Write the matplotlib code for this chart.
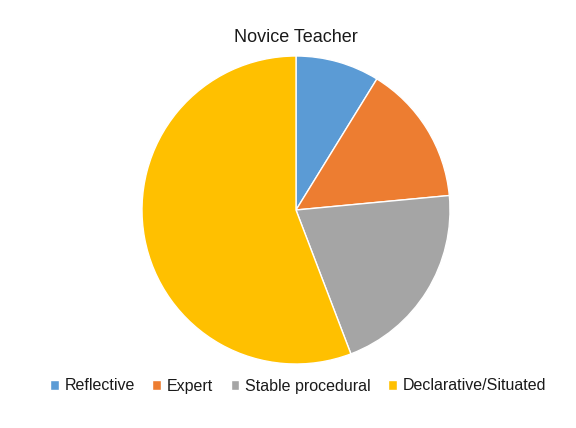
import matplotlib
matplotlib.use("Agg")
import matplotlib.pyplot as plt

plt.rcParams["font.family"] = ["Liberation Sans", "DejaVu Sans"]

labels = ["Reflective", "Expert", "Stable procedural", "Declarative/Situated"]
values = [8.8, 14.7, 20.7, 55.8]
colors = ["#5B9BD5", "#ED7D31", "#A5A5A5", "#FFC000"]

W, H = 576, 428
fig = plt.figure(figsize=(W / 100, H / 100), dpi=100)
cx, cy, r = 296, 210, 154
ax = fig.add_axes([(cx - r) / W, (H - cy - r) / H, 2 * r / W, 2 * r / H])
wedges, _ = ax.pie(values, colors=colors, startangle=90, counterclock=False,
                   radius=1, wedgeprops=dict(edgecolor="white", linewidth=1))
ax.set_xlim(-1, 1)
ax.set_ylim(-1, 1)
ax.set_aspect("equal")
ax.axis("off")

fig.text(cx / W, 1 - 38 / H, "Novice Teacher", ha="center", va="center",
         fontsize=13, color="#1a1a1a")

fig.legend(wedges, labels, loc="center", bbox_to_anchor=(298 / W, 1 - 386 / H),
           ncol=4, frameon=False, fontsize=11.5, handlelength=0.55,
           handleheight=0.55, handletextpad=0.35, columnspacing=1.1,
           labelcolor="#1a1a1a")

fig.savefig("out.png", dpi=100)
